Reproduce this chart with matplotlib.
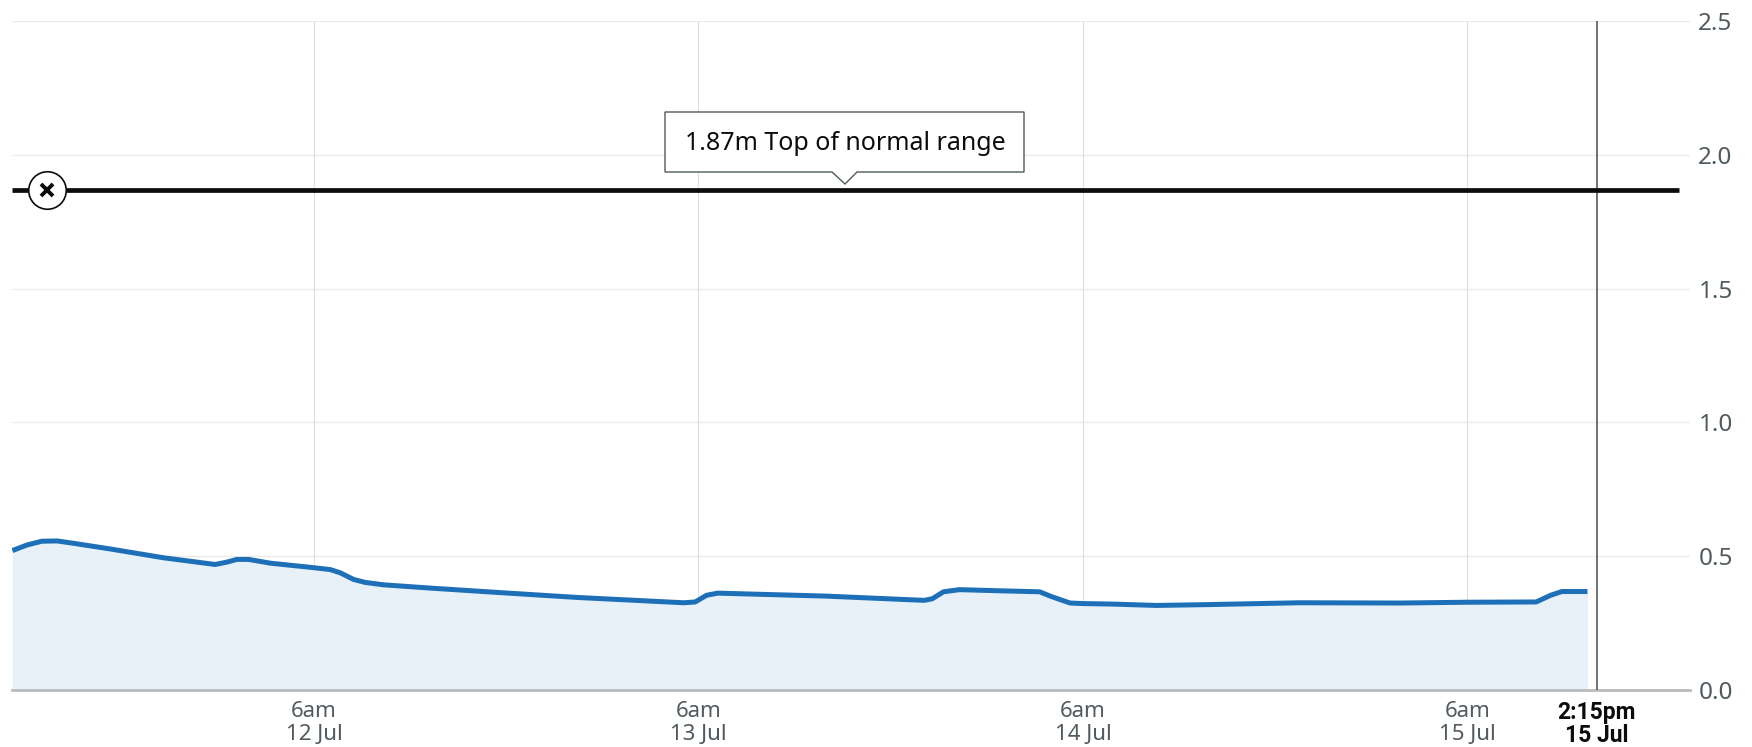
import matplotlib
matplotlib.use("Agg")
import matplotlib.pyplot as plt
from matplotlib.patches import Polygon

plt.rcParams['font.family'] = ['Noto Sans', 'DejaVu Sans']

# hours after 6am on 12 Jul
hours = [-18.83, -17.91, -16.98, -16.04, -15.21, -12.71, -9.38, -6.16, -5.43, -4.81,
         -4.08, -2.73, 0, 1.02, 1.64, 2.48, 3.2, 4.35, 7.47, 11.61,
         16.39, 23.08, 23.8, 24.51, 25.2, 26.4, 31.9, 38.1, 38.6, 39.3,
         40.3, 42.66, 45.3, 46.0, 47.2, 48, 49.9, 52.6, 55.7, 61.5,
         67.8, 72.05, 76.3, 77.2, 77.9, 79.5]
levels = [.521, .542, .556, .557, .550, .527, .494, .469, .478, .488,
          .488, .474, .457, .450, .438, .413, .402, .393, .380, .364,
          .346, .326, .329, .354, .362, .360, .351, .335, .341, .367,
          .375, .371, .367, .350, .325, .323, .321, .316, .319, .326,
          .325, .328, .329, .354, .368, .368]

day_ticks = [0, 24, 48, 72]
day_labels = ['6am\n12 Jul', '6am\n13 Jul', '6am\n14 Jul', '6am\n15 Jul']
now_hour = 80.09
now_label = '2:15pm\n15 Jul'
y_ticks = [0, 0.5, 1.0, 1.5, 2.0, 2.5]
y_labels = ['0.0', '0.5', '1.0', '1.5', '2.0', '2.5']
top_normal = 1.87
top_label = '1.87m Top of normal range'

W, H = 1752, 747
GREY = '#505a5f'
BLUE = '#1d70b8'
BLACK = '#0b0c0c'

fig = plt.figure(figsize=(W / 100, H / 100), dpi=100)
ax = fig.add_axes([12 / W, (H - 690) / H, (1690 - 12) / W, (690 - 21) / H])
ax.set_xlim(-18.85, 85.9)
ax.set_ylim(0, 2.5)

for s in ['left', 'right', 'top']:
    ax.spines[s].set_visible(False)
ax.spines['bottom'].set_color('#b8babb')
ax.spines['bottom'].set_linewidth(2.0)

ax.yaxis.tick_right()
ax.set_yticks(y_ticks)
ax.set_yticklabels(y_labels, fontsize=17.5, color=GREY)
ax.set_xticks(day_ticks + [now_hour])
ax.set_xticklabels(day_labels + [now_label], fontsize=16, color=GREY, linespacing=1.1)
ax.tick_params(axis='both', length=0)
ax.tick_params(axis='y', pad=6)
ax.tick_params(axis='x', pad=8)
last = ax.get_xticklabels()[-1]
last.set_family(['Roboto', 'DejaVu Sans'])
last.set_fontweight('bold')
last.set_fontsize(16.5)
last.set_linespacing(1.02)
last.set_color(BLACK)

ax.hlines(y_ticks[1:], ax.get_xlim()[0], ax.get_xlim()[1], color='#ebebeb', lw=1.0, zorder=1)
ax.vlines(day_ticks, 0, 2.5, color='#dedede', lw=0.8, zorder=1)

ax.fill_between(hours, levels, 0, color='#e8f0f8', lw=0, zorder=2)
ax.plot(hours, levels, color=BLUE, lw=3.6, solid_joinstyle='round', solid_capstyle='butt', zorder=3)

ax.vlines(now_hour, 0, 2.5, color=GREY, lw=1.2, zorder=4)
ax.plot([ax.get_xlim()[0], 85.2], [top_normal, top_normal], color=BLACK, lw=3.4,
        solid_capstyle='butt', zorder=5)
ax.plot(-16.67, top_normal, 'o', ms=27, mfc='white', mec=BLACK, mew=1.2, zorder=6)
ax.plot(-16.67, top_normal, 'x', ms=8, color=BLACK, mew=2.8, zorder=7)


def px(x, y):
    return (x / W, 1 - y / H)


callout = [px(665, 112), px(1024, 112), px(1024, 172), px(857, 172), px(845, 184),
           px(832, 172), px(665, 172)]
fig.add_artist(Polygon(callout, closed=True, transform=fig.transFigure, facecolor='white',
                       edgecolor=GREY, lw=1.0, zorder=8))
x0, y0 = px(845, 143)
fig.text(x0, y0, top_label, fontsize=18, color=BLACK, ha='center', va='center', zorder=9)

fig.savefig('out.png', dpi=100)
